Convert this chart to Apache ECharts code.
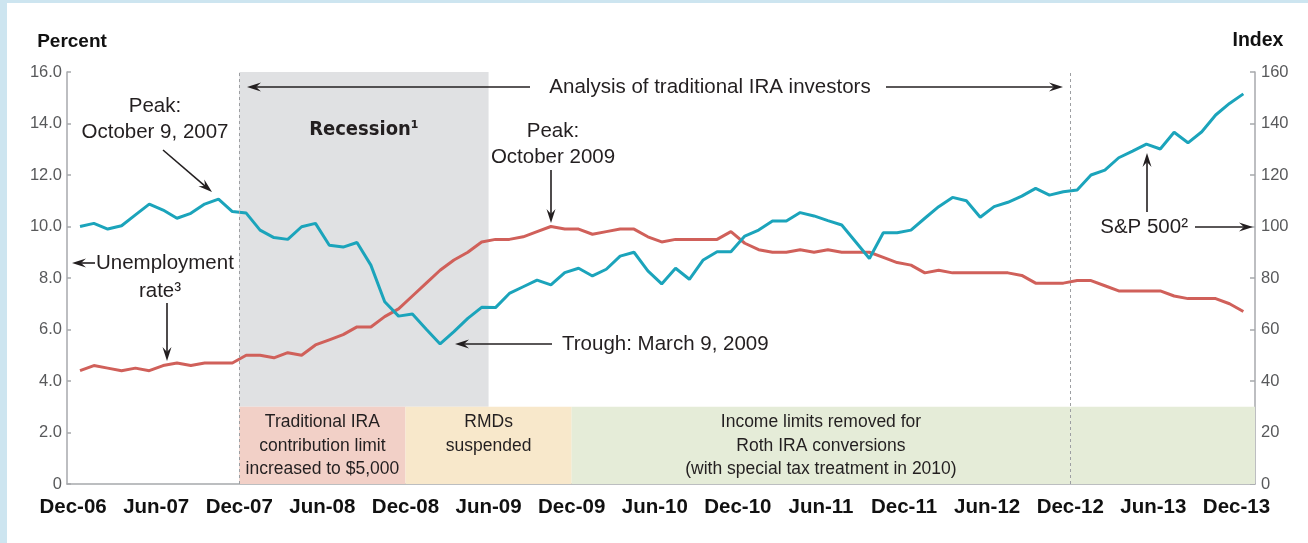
<!DOCTYPE html>
<html>
<head>
<meta charset="utf-8">
<title>Unemployment rate and S&amp;P 500</title>
<script src="https://cdn.jsdelivr.net/npm/echarts@6/dist/echarts.min.js"></script>
<style>
  html, body { margin: 0; padding: 0; background: #fff; }
  #chart { width: 1308px; height: 543px; }
</style>
</head>
<body>
<div id="chart"></div>
<script>
// x axis labels, one every 6 months (Dec-06 = month 0)
const tickLabels = ['Dec-06', 'Jun-07', 'Dec-07', 'Jun-08', 'Dec-08', 'Jun-09', 'Dec-09', 'Jun-10',
  'Dec-10', 'Jun-11', 'Dec-11', 'Jun-12', 'Dec-12', 'Jun-13', 'Dec-13'];
const tickAt = tickLabels.map((_, i) => i * 6 - 0.5);

// monthly unemployment rate, percent (Dec-06 .. Dec-13)
const unemployment = [
  4.4, 4.6, 4.5, 4.4, 4.5, 4.4, 4.6, 4.7, 4.6, 4.7, 4.7, 4.7,
  5.0, 5.0, 4.9, 5.1, 5.0, 5.4, 5.6, 5.8, 6.1, 6.1, 6.5, 6.8,
  7.3, 7.8, 8.3, 8.7, 9.0, 9.4, 9.5, 9.5, 9.6, 9.8, 10.0, 9.9,
  9.9, 9.7, 9.8, 9.9, 9.9, 9.6, 9.4, 9.5, 9.5, 9.5, 9.5, 9.8,
  9.35, 9.1, 9.0, 9.0, 9.1, 9.0, 9.1, 9.0, 9.0, 9.0, 8.8, 8.6,
  8.5, 8.2, 8.3, 8.2, 8.2, 8.2, 8.2, 8.2, 8.1, 7.8, 7.8, 7.8,
  7.9, 7.9, 7.7, 7.5, 7.5, 7.5, 7.5, 7.3, 7.2, 7.2, 7.2, 7.0, 6.7
];

// S&P 500 index (Dec-06 = 100)
const sp500 = [
  100, 101.2, 99, 100.3, 104.5, 108.7, 106.4, 103.2, 105.1, 108.7, 110.6, 105.8,
  105.2, 98.6, 95.7, 95.0, 99.9, 101.2, 92.7, 92.0, 93.8, 85.0, 70.8, 65.2,
  66.0, 60.1, 54.4, 59.2, 64.3, 68.6, 68.5, 74.0, 76.6, 79.2, 77.3, 82.1,
  83.8, 80.8, 83.4, 88.5, 90.0, 82.8, 77.7, 83.8, 79.5, 87.0, 90.2, 90.2,
  96.3, 98.6, 102.1, 102.1, 105.4, 104.1, 102.3, 100.6, 94.1, 87.6, 97.6, 97.6,
  98.6, 103.2, 107.7, 111.3, 110.0, 103.6, 107.7, 109.4, 111.8, 114.8, 112.2, 113.5,
  114.2, 120.0, 121.9, 126.7, 129.3, 132.0, 130.1, 136.6, 132.5, 136.8, 143.3, 147.8, 151.5
];

// periods (in months from Dec-06)
const recession = [11.5, 29.5];
const analysisWindow = [11.5, 71.5];
const bandFrom = [11.5, 23.5, 35.5, 71.5];
const bandTo = [23.5, 35.5, 71.5, 84.84];
const bandText = [
  'Traditional IRA\ncontribution limit\nincreased to $5,000',
  'RMDs\nsuspended',
  'Income limits removed for\nRoth IRA conversions\n(with special tax treatment in 2010)',
  ''
];
const bandColor = ['#f2d0c7', '#f8e8cb', '#e5ecd8', '#e5ecd8'];
const bandTop = 3.0;

const FONT = "'Liberation Sans', Arial, sans-serif";
const NARROW = "'Liberation Sans Narrow', 'DejaVu Sans Condensed', 'Liberation Sans', sans-serif";
const INK = '#231f20';
const RED = '#d0605a';
const BLUE = '#1ba4bb';

function txt(text, x, y, size, align, bold) {
  return {
    type: 'text', z: 100,
    style: {
      text: text, x: x, y: y,
      font: (bold ? 'bold ' : '') + size + 'px ' + FONT,
      fill: INK,
      align: align || 'center', textAlign: align || 'center',
      verticalAlign: 'middle', textVerticalAlign: 'middle',
      lineHeight: 26
    }
  };
}

function arrow(x1, y1, x2, y2) {
  const a = Math.atan2(y2 - y1, x2 - x1);
  const L = 14, W = 4.5;
  const c = Math.cos(a), s = Math.sin(a);
  const bx = x2 - L * c, by = y2 - L * s;
  const nx = x2 - 0.65 * L * c, ny = y2 - 0.65 * L * s;
  return [
    { type: 'line', z: 100, shape: { x1: x1, y1: y1, x2: nx, y2: ny }, style: { stroke: INK, lineWidth: 1.6 } },
    { type: 'polygon', z: 100, shape: { points: [[x2, y2], [bx - W * s, by + W * c], [nx, ny], [bx + W * s, by - W * c]] },
      style: { fill: INK } }
  ];
}

const chart = echarts.init(document.getElementById('chart'));

const graphics = [
  { type: 'rect', shape: { x: 0, y: 0, width: 7, height: 543 }, style: { fill: '#cde5f0' } },
  { type: 'rect', shape: { x: 0, y: 0, width: 1308, height: 3 }, style: { fill: '#cde5f0' } },
  txt('Peak:\nOctober 9, 2007', 155, 119, 20.5),
  txt('Analysis of traditional IRA investors', 710, 87, 20.5),
  txt('Peak:\nOctober 2009', 553, 144, 20.5),
  txt('Trough: March 9, 2009', 562, 344, 20.5, 'left'),
  txt('Unemployment', 96, 263, 20.5, 'left'),
  txt('rate\u00b3', 160, 291, 20.5),
  txt('S&P 500\u00b2', 1188, 227, 20.5, 'right')
].concat(
  arrow(163, 150, 212, 192),
  arrow(530, 87, 247, 87),
  arrow(886, 87, 1063, 87),
  arrow(551, 170, 551, 223),
  arrow(552, 344, 455, 344),
  arrow(95, 263, 72, 263),
  arrow(167, 303, 167, 361),
  arrow(1147, 212, 1147, 153),
  arrow(1195, 227, 1253, 227)
);

const areaData = [
  [
    { xAxis: recession[0], yAxis: bandTop, itemStyle: { color: '#e0e1e3' },
      label: { show: true, position: 'insideTop', distance: 46, formatter: 'Recession\u00b9',
        fontFamily: NARROW, fontWeight: 'bold', fontSize: 20, color: INK, lineHeight: 24 } },
    { xAxis: recession[1], yAxis: 16 }
  ]
].concat(bandFrom.map((from, i) => [
  { xAxis: from, yAxis: 0, itemStyle: { color: bandColor[i] },
    label: { show: bandText[i] !== '', position: 'insideTop', distance: 4, formatter: bandText[i],
      fontFamily: FONT, fontSize: 17.5, color: INK, lineHeight: 23.5, align: 'center' } },
  { xAxis: bandTo[i], yAxis: bandTop }
]));

chart.setOption({
  animation: false,
  backgroundColor: '#fff',
  textStyle: { fontFamily: FONT },
  grid: { left: 67, right: 53, top: 72, bottom: 59, containLabel: false, outerBoundsMode: 'none' },
  graphic: graphics,
  xAxis: {
    type: 'value', min: -0.94, max: 84.84,
    splitLine: { show: false },
    axisLine: { onZero: false, lineStyle: { color: '#a7a9ac', width: 1.5 } },
    axisTick: { show: false },
    axisLabel: {
      customValues: tickAt,
      formatter: v => tickLabels[tickAt.indexOf(v)] || '',
      fontFamily: FONT, fontWeight: 'bold', fontSize: 20.5, color: '#111', margin: 13
    }
  },
  yAxis: [
    {
      type: 'value', min: 0, max: 16, interval: 2,
      name: 'Percent', nameLocation: 'end', nameGap: 21,
      nameTextStyle: { fontFamily: FONT, fontWeight: 'bold', fontSize: 19, color: '#111', padding: [0, 0, 0, 10] },
      splitLine: { show: false },
      axisLine: { show: true, onZero: false, lineStyle: { color: '#a7a9ac', width: 1.5 } },
      axisTick: { show: true, inside: true, length: 4, lineStyle: { color: '#a7a9ac', width: 1.5 } },
      axisLabel: { formatter: v => v === 0 ? '0' : v.toFixed(1), fontSize: 16.5, color: '#58595b', margin: 5 }
    },
    {
      type: 'value', min: 0, max: 160, interval: 20, position: 'right',
      name: 'Index', nameLocation: 'end', nameGap: 21,
      nameTextStyle: { fontFamily: FONT, fontWeight: 'bold', fontSize: 19.5, color: '#111', padding: [0, 0, 0, 6] },
      splitLine: { show: false },
      axisLine: { show: true, onZero: false, lineStyle: { color: '#a7a9ac', width: 1.5 } },
      axisTick: { show: true, inside: true, length: 5, lineStyle: { color: '#a7a9ac', width: 1.5 } },
      axisLabel: { fontSize: 16.5, color: '#58595b', margin: 6 }
    }
  ],
  series: [
    {
      name: 'periods', type: 'line', data: [], z: 1, silent: true,
      markArea: { silent: true, data: areaData }
    },
    {
      name: 'analysis', type: 'line', data: [], z: 2, silent: true,
      markLine: {
        silent: true, symbol: 'none', label: { show: false },
        lineStyle: { color: '#9d9fa2', type: [3, 3], width: 1 },
        data: analysisWindow.map(m => ({ xAxis: m }))
      }
    },
    {
      name: 'Unemployment rate', type: 'line', yAxisIndex: 0, z: 3,
      data: unemployment.map((v, i) => [i, v]),
      symbol: 'none', lineStyle: { color: RED, width: 3 }, itemStyle: { color: RED }
    },
    {
      name: 'S&P 500', type: 'line', yAxisIndex: 1, z: 4,
      data: sp500.map((v, i) => [i, v]),
      symbol: 'none', lineStyle: { color: BLUE, width: 3 }, itemStyle: { color: BLUE }
    }
  ]
});
</script>
</body>
</html>
